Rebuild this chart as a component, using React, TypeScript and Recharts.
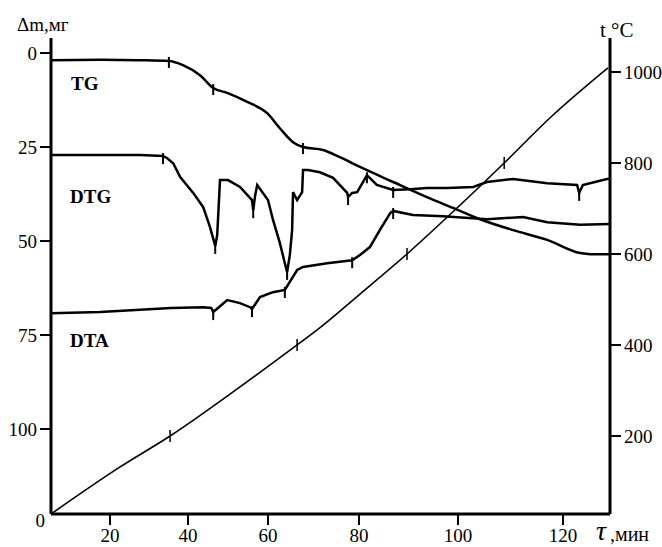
import React from 'react';
import { LineChart, Line, XAxis, YAxis } from 'recharts';

const timeTicks = [20, 40, 60, 80, 100, 120];
const massTicks = [0, 25, 50, 75, 100];
const tempTicks = [200, 400, 600, 800, 1000];

// the printed time ruler is uneven: where each minute mark sits along it (0 = left end, 1 = right end)
const rulerMinutes = [5, 20, 40, 60, 80, 100, 120, 129];
const rulerSpots = [0, 0.1055, 0.2451, 0.3882, 0.551, 0.7281, 0.9159, 1];

// TG, mass loss (mg)
const tgTime = [5, 17.5, 27.7, 35.1, 38.7, 43, 46.3, 49.8, 54.8, 59.8, 62.6, 65.5, 67.7, 72.1, 75.8, 80.2, 86.9, 93.7, 99, 104.2, 110.5, 117, 123.3, 125.2, 129];
const tgMass = [1.9, 1.8, 1.9, 2.1, 3.2, 5.9, 9.3, 10.6, 13, 16, 20, 23.7, 25, 25.8, 27.7, 30.3, 34.3, 38.3, 41.2, 44.2, 47.1, 49.7, 53.2, 53.5, 53.5];
const tgMarks = [35.1, 46.3, 67.7];

// DTG trace
const dtgTime = [5, 17.5, 27.7, 33.6, 34.6, 36.2, 38, 41.3, 43.8, 45.5, 46.8, 47.3, 48, 50, 53, 56, 56.3, 56.8, 57.3, 60, 61.1, 62.6, 63.7, 64.2, 64.8, 65.3, 65.5, 66.4, 67.5, 67.7, 68.8, 71.4, 74.3, 77.4, 77.6, 78.5, 79.6, 81.6, 83.6, 86.9, 90.3, 93.7, 97.8, 102.9, 105.5, 110.5, 117, 122.7, 123.1, 123.8, 128.4, 129];
const dtgValue = [27.1, 27.1, 27.1, 27.4, 27.9, 29.3, 33, 37.2, 41, 46.3, 51.3, 48.4, 33.8, 33.8, 35.6, 39.1, 41.8, 37.8, 35.1, 39.1, 44.4, 50.5, 55.9, 58.2, 53.7, 47.1, 37, 39.1, 37, 31.1, 31.1, 31.7, 33.2, 37.2, 38.3, 37.2, 37, 32.5, 35.1, 36.4, 36.2, 35.9, 35.9, 35.6, 34.3, 33.5, 34.6, 35.1, 37.2, 35.1, 33.5, 33.5];
const dtgMarks = [33.6, 46.8, 56.3, 64.2, 77.6, 81.6, 86.9, 123.1];

// DTA trace
const dtaTime = [5, 17.5, 35.6, 43.8, 45.8, 46.3, 47.5, 49.8, 53, 55.5, 56, 56.8, 58, 61.1, 63.7, 66.4, 67.7, 73, 78.5, 80.2, 82.2, 84.2, 86.3, 86.9, 90.9, 97, 105.5, 112.4, 117, 123.3, 129];
const dtaValue = [69.2, 68.9, 67.8, 67.6, 67.8, 68.9, 67.8, 65.7, 66.5, 67.6, 68.1, 66.8, 64.9, 63.6, 63, 57.7, 56.9, 55.9, 55.1, 53.7, 51.6, 47.1, 42.6, 42, 43.1, 43.4, 44.2, 43.6, 45, 45.7, 45.5];
const dtaMarks = [46.3, 56, 63.7, 78.5, 86.9];

// furnace temperature (°C)
const tempTime = [5, 22.6, 35.4, 53, 66.4, 70.8, 80.2, 89.7, 99.4, 108.8, 117.7, 128.6];
const tempValue = [28.5, 132, 200, 308, 400, 433, 512, 600, 697, 800, 901, 1009];
const tempMarks = [35.4, 66.4, 89.7, 108.8];

const zip = (ts: number[], vs: number[]) => ts.map((t, i) => ({ t, v: vs[i] }));

function rulerScale(dom: number[] = [5, 129], rng: number[] = [0, 1]): any {
  let domain = dom.slice();
  let range = rng.slice();
  const spot = (v: number) => {
    let i = 0;
    while (i < rulerMinutes.length - 2 && v > rulerMinutes[i + 1]) i++;
    const a = rulerMinutes[i], b = rulerMinutes[i + 1];
    return rulerSpots[i] + ((v - a) / (b - a)) * (rulerSpots[i + 1] - rulerSpots[i]);
  };
  const scale: any = (v: number) => range[0] + spot(v) * (range[1] - range[0]);
  scale.domain = (d?: number[]) => {
    if (!d) return domain.slice();
    domain = d.slice();
    return scale;
  };
  scale.range = (r?: number[]) => {
    if (!r) return range.slice();
    range = r.slice();
    return scale;
  };
  scale.invert = (px: number) => {
    const f = (px - range[0]) / (range[1] - range[0]);
    let i = 0;
    while (i < rulerSpots.length - 2 && f > rulerSpots[i + 1]) i++;
    const a = rulerSpots[i], b = rulerSpots[i + 1];
    return rulerMinutes[i] + ((f - a) / (b - a)) * (rulerMinutes[i + 1] - rulerMinutes[i]);
  };
  scale.copy = () => rulerScale(domain, range);
  scale.ticks = () => timeTicks.slice();
  scale.tickFormat = () => (v: number) => String(v);
  scale.clamp = () => scale;
  scale.nice = () => scale;
  return scale;
}

const markDot = (marks: number[], up: number, down: number, w: number) => (p: any) => {
  const key = `m-${p.index}`;
  if (!p.payload || !marks.includes(p.payload.t) || p.cx == null) return <g key={key} />;
  return <line key={key} x1={p.cx} x2={p.cx} y1={p.cy - up} y2={p.cy + down} stroke="#000" strokeWidth={w} />;
};

const FONT = '"Liberation Serif", "DejaVu Serif", serif';
const tickStyle = { fill: '#000', fontSize: 19, fontFamily: FONT };

export default function App() {
  const xScale = React.useMemo(() => rulerScale(), []);
  return (
    <div style={{ position: 'absolute', left: 0, top: 0, width: 662, height: 547, background: '#fff', fontFamily: FONT }}>
      <LineChart width={662} height={547} margin={{ top: 38, right: 0, bottom: 0, left: 0 }} style={{ fontFamily: FONT }}>
        <XAxis
          type="number"
          dataKey="t"
          domain={[5, 129]}
          allowDataOverflow
          scale={xScale}
          ticks={timeTicks}
          height={33}
          tickSize={11}
          tickMargin={4}
          tick={tickStyle}
          axisLine={{ stroke: '#000', strokeWidth: 3 }}
          tickLine={{ stroke: '#000', strokeWidth: 2 }}
        />
        <YAxis
          yAxisId="m"
          type="number"
          domain={[-4, 122.6]}
          reversed
          allowDataOverflow
          ticks={massTicks}
          width={51}
          tickSize={11}
          tickMargin={3}
          tick={tickStyle}
          axisLine={{ stroke: '#000', strokeWidth: 3 }}
          tickLine={{ stroke: '#000', strokeWidth: 2 }}
        />
        <YAxis
          yAxisId="T"
          orientation="right"
          type="number"
          domain={[28.5, 1074.7]}
          allowDataOverflow
          ticks={tempTicks}
          width={52}
          tickSize={11}
          tickMargin={3}
          tick={tickStyle}
          axisLine={{ stroke: '#000', strokeWidth: 3 }}
          tickLine={{ stroke: '#000', strokeWidth: 2 }}
        />
        <Line yAxisId="m" data={zip(tgTime, tgMass)} dataKey="v" type="monotone" stroke="#000" strokeWidth={2.5}
          dot={markDot(tgMarks, 4, 7, 2)} activeDot={false} isAnimationActive={false} />
        <Line yAxisId="m" data={zip(dtgTime, dtgValue)} dataKey="v" type="linear" stroke="#000" strokeWidth={2.5}
          dot={markDot(dtgMarks, 3, 8, 2)} activeDot={false} isAnimationActive={false} />
        <Line yAxisId="m" data={zip(dtaTime, dtaValue)} dataKey="v" type="linear" stroke="#000" strokeWidth={2.5}
          dot={markDot(dtaMarks, 3, 8, 2)} activeDot={false} isAnimationActive={false} />
        <Line yAxisId="T" data={zip(tempTime, tempValue)} dataKey="v" type="monotone" stroke="#000" strokeWidth={1.6}
          dot={markDot(tempMarks, 6, 6, 1.5)} activeDot={false} isAnimationActive={false} />
      </LineChart>
      <svg width={662} height={547} style={{ position: 'absolute', left: 0, top: 0, pointerEvents: 'none' }}>
        <g fontFamily={FONT} fill="#000">
          <text x={17} y={31} fontSize={19}>Δm,мг</text>
          <text x={600} y={37} fontSize={21}>t °C</text>
          <text x={45} y={527} fontSize={19} textAnchor="end">0</text>
          <text x={596} y={540} fontSize={28} fontStyle="italic">τ</text>
          <text x={610} y={541} fontSize={20}>,мин</text>
          <text x={71} y={90} fontSize={19} fontWeight="bold">TG</text>
          <text x={70} y={203} fontSize={19} fontWeight="bold">DTG</text>
          <text x={70} y={347} fontSize={19} fontWeight="bold">DTA</text>
        </g>
      </svg>
    </div>
  );
}
